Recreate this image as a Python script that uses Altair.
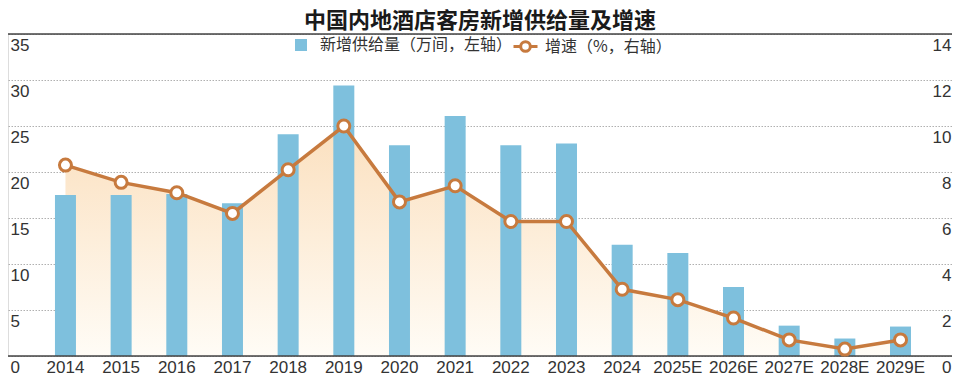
import altair as alt
import pandas as pd

years = ["2014", "2015", "2016", "2017", "2018", "2019", "2020", "2021",
         "2022", "2023", "2024", "2025E", "2026E", "2027E", "2028E", "2029E"]
supply = [17.5, 17.5, 17.6, 16.6, 24.1, 29.4, 22.9, 26.1,
          22.9, 23.1, 12.1, 11.2, 7.5, 3.3, 1.9, 3.2]
growth = [8.3, 7.55, 7.1, 6.2, 8.1, 10.0, 6.7, 7.4,
          5.85, 5.85, 2.9, 2.45, 1.65, 0.7, 0.3, 0.7]
left_ticks = [0, 5, 10, 15, 20, 25, 30, 35]
right_ticks = [0, 2, 4, 6, 8, 10, 12, 14]
bar_label = "新增供给量（万间，左轴）"
line_label = "增速（%，右轴）"
title_text = "中国内地酒店客房新增供给量及增速"

BLUE = "#7ec0dd"
ORANGE = "#c77a3e"
TEXT = "#333333"
NUM_FONT = "Liberation Sans"
CJK_FONT = "Noto Sans CJK SC"

df = pd.DataFrame({"year": years, "supply": supply, "growth": growth,
                   "s1": bar_label, "s2": line_label})
frame_df = pd.DataFrame({"v": [0, 35]})

xscale = alt.Scale(type="band", paddingInner=0.623, paddingOuter=0.79, align=0.534)
xaxis = alt.Axis(title=None, ticks=False, domain=False, labelAngle=0,
                 labelFont=NUM_FONT, labelFontSize=17, labelColor=TEXT,
                 labelPadding=3, labelBaseline="top")


def xenc():
    return alt.X("year:N", sort=years, scale=xscale, axis=xaxis)


lscale = alt.Scale(domain=[0, 35], nice=False, zero=True)
rscale = alt.Scale(domain=[0, 14], nice=False, zero=True)

left_axis = alt.Axis(title=None, orient="left", values=left_ticks, ticks=False,
                     domain=False, grid=True, gridDash=[1.5, 1.5], gridColor="#b0b0b0",
                     gridWidth=1, labelAlign="left", labelPadding=-2,
                     labelBaseline="middle", labelOffset=11, labelFlush=False,
                     labelFont=NUM_FONT, labelFontSize=17, labelColor=TEXT)
right_axis = alt.Axis(title=None, orient="right", values=right_ticks, ticks=False,
                      domain=False, grid=False, labelAlign="right", labelPadding=-1,
                      labelBaseline="middle", labelOffset=11, labelFlush=False,
                      labelFont=NUM_FONT, labelFontSize=17, labelColor=TEXT)

base = alt.Chart(df)

area = base.mark_area(
    color=alt.Gradient(gradient="linear", x1=1, x2=1, y1=0, y2=1,
                       stops=[alt.GradientStop(color="#fbe0bf", offset=0),
                              alt.GradientStop(color="#fffcf6", offset=1)])
).encode(x=xenc(), y=alt.Y("growth:Q", scale=rscale, axis=None))

bars = base.mark_bar(size=21).encode(
    x=xenc(),
    y=alt.Y("supply:Q", scale=lscale, axis=left_axis),
    color=alt.Color("s1:N", scale=alt.Scale(domain=[bar_label], range=[BLUE]),
                    legend=alt.Legend(title=None, orient="none", legendX=285, legendY=3,
                                      symbolType="square", symbolSize=144,
                                      labelFont=CJK_FONT, labelFontSize=16,
                                      labelColor=TEXT, labelOffset=11, labelLimit=400,
                                      padding=0)),
)

rules = alt.Chart(frame_df).mark_rule(color="#444444", strokeWidth=1.5).encode(
    y=alt.Y("v:Q", scale=lscale, axis=left_axis)
)

left_layer = alt.layer(bars, rules)

sym_path = ("M-1,0H-0.4 M0.4,0H1 M-0.4,0A0.4,0.4 0 1,0 0.4,0"
            "A0.4,0.4 0 1,0 -0.4,0Z")

line = base.mark_line(strokeWidth=3.5).encode(
    x=xenc(),
    y=alt.Y("growth:Q", scale=rscale, axis=right_axis),
    stroke=alt.Stroke("s2:N", scale=alt.Scale(domain=[line_label], range=[ORANGE]),
                      legend=alt.Legend(title=None, orient="none", legendX=504, legendY=-1,
                                        symbolType=sym_path, symbolSize=576,
                                        symbolStrokeWidth=3, symbolFillColor="white",
                                        labelFont=CJK_FONT, labelFontSize=16,
                                        labelColor=TEXT, labelOffset=6, labelLimit=400,
                                        padding=0)),
)

points = base.mark_point(shape="circle", filled=True, fill="white", stroke=ORANGE,
                         strokeWidth=3, size=144, opacity=1).encode(
    x=xenc(),
    y=alt.Y("growth:Q", scale=rscale, axis=right_axis),
)

right_layer = alt.layer(line, points)

chart = alt.layer(area, left_layer, right_layer).resolve_scale(
    y="independent"
).properties(
    width=944,
    height=322,
    autosize=alt.AutoSizeParams(type="none"),
    padding={"left": 0, "right": 0, "top": 26, "bottom": 19},
    title=alt.TitleParams(title_text, font=CJK_FONT, fontSize=22, fontWeight="bold",
                          color="#1a1a1a", anchor="middle", offset=0),
).configure_view(stroke=None).configure(background="white")

chart.save("out.html", embed_options={"renderer": "svg", "actions": False})
